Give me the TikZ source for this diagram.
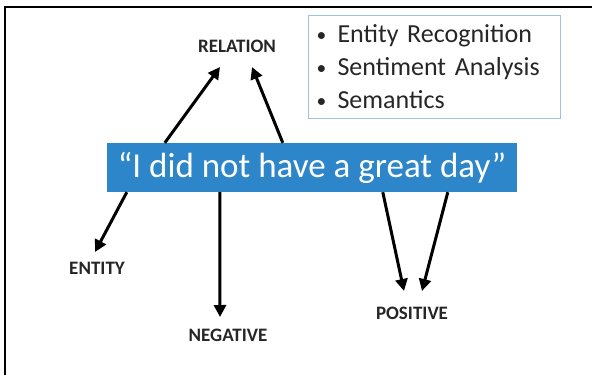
\documentclass[tikz,border=0pt]{standalone}
\usepackage{fontspec}
\setmainfont{Carlito}
\usetikzlibrary{arrows.meta}
\definecolor{phrase}{RGB}{45,134,201}
\definecolor{listline}{RGB}{157,195,226}
\newcommand{\dotitem}{\makebox[21pt][l]{\raisebox{1pt}{\scalebox{0.75}{\textbullet}}}}
\begin{document}
\begin{tikzpicture}[x=1pt, y=-1pt,
  lbl/.style={font=\fontsize{19}{19}\selectfont\bfseries, text=black!85},
  arr/.style={-{Triangle[length=12pt,width=12pt]}, line width=3pt}]
  \useasboundingbox (0,0) rectangle (592,375);
  % page frame
  \draw[line width=2pt] (5,375) -- (5,7) -- (592,7);
  % task list
  \node[draw=listline, line width=1pt, anchor=north west, minimum width=252pt,
    minimum height=103pt, inner xsep=8pt, text width=236pt, align=left,
    font=\fontsize{26}{33}\selectfont, text=black!85] (tasks) at (308,15)
    {\dotitem Entity Recognition\\
     \dotitem Sentiment Analysis\\
     \dotitem Semantics};
  % the sentence
  \node[fill=phrase, text=white, minimum width=410pt, minimum height=49pt,
    inner sep=0pt, font=\fontsize{35}{35}\selectfont] (sentence) at (312,167.5)
    {``I did not have a great day''};
  % labels
  \node[lbl] (rel) at (237,46) {RELATION};
  \node[lbl] (ent) at (97,268) {ENTITY};
  \node[lbl] (neg) at (228,335) {NEGATIVE};
  \node[lbl] (pos) at (412,313) {POSITIVE};
  % arrow tips
  \coordinate (relA) at (220,67);
  \coordinate (relB) at (252,67);
  \coordinate (entA) at (95,252);
  \coordinate (negA) at (220,317);
  \coordinate (posA) at (404,291);
  \coordinate (posB) at (422,291);
  \draw[arr] ([xshift=58pt]sentence.north west) -- (relA);
  \draw[arr] ([xshift=176pt]sentence.north west) -- (relB);
  \draw[arr] ([xshift=20pt]sentence.south west) -- (entA);
  \draw[arr] ([xshift=113pt]sentence.south west) -- (negA);
  \draw[arr] ([xshift=276pt]sentence.south west) -- (posA);
  \draw[arr] ([xshift=341pt]sentence.south west) -- (posB);
\end{tikzpicture}
\end{document}
